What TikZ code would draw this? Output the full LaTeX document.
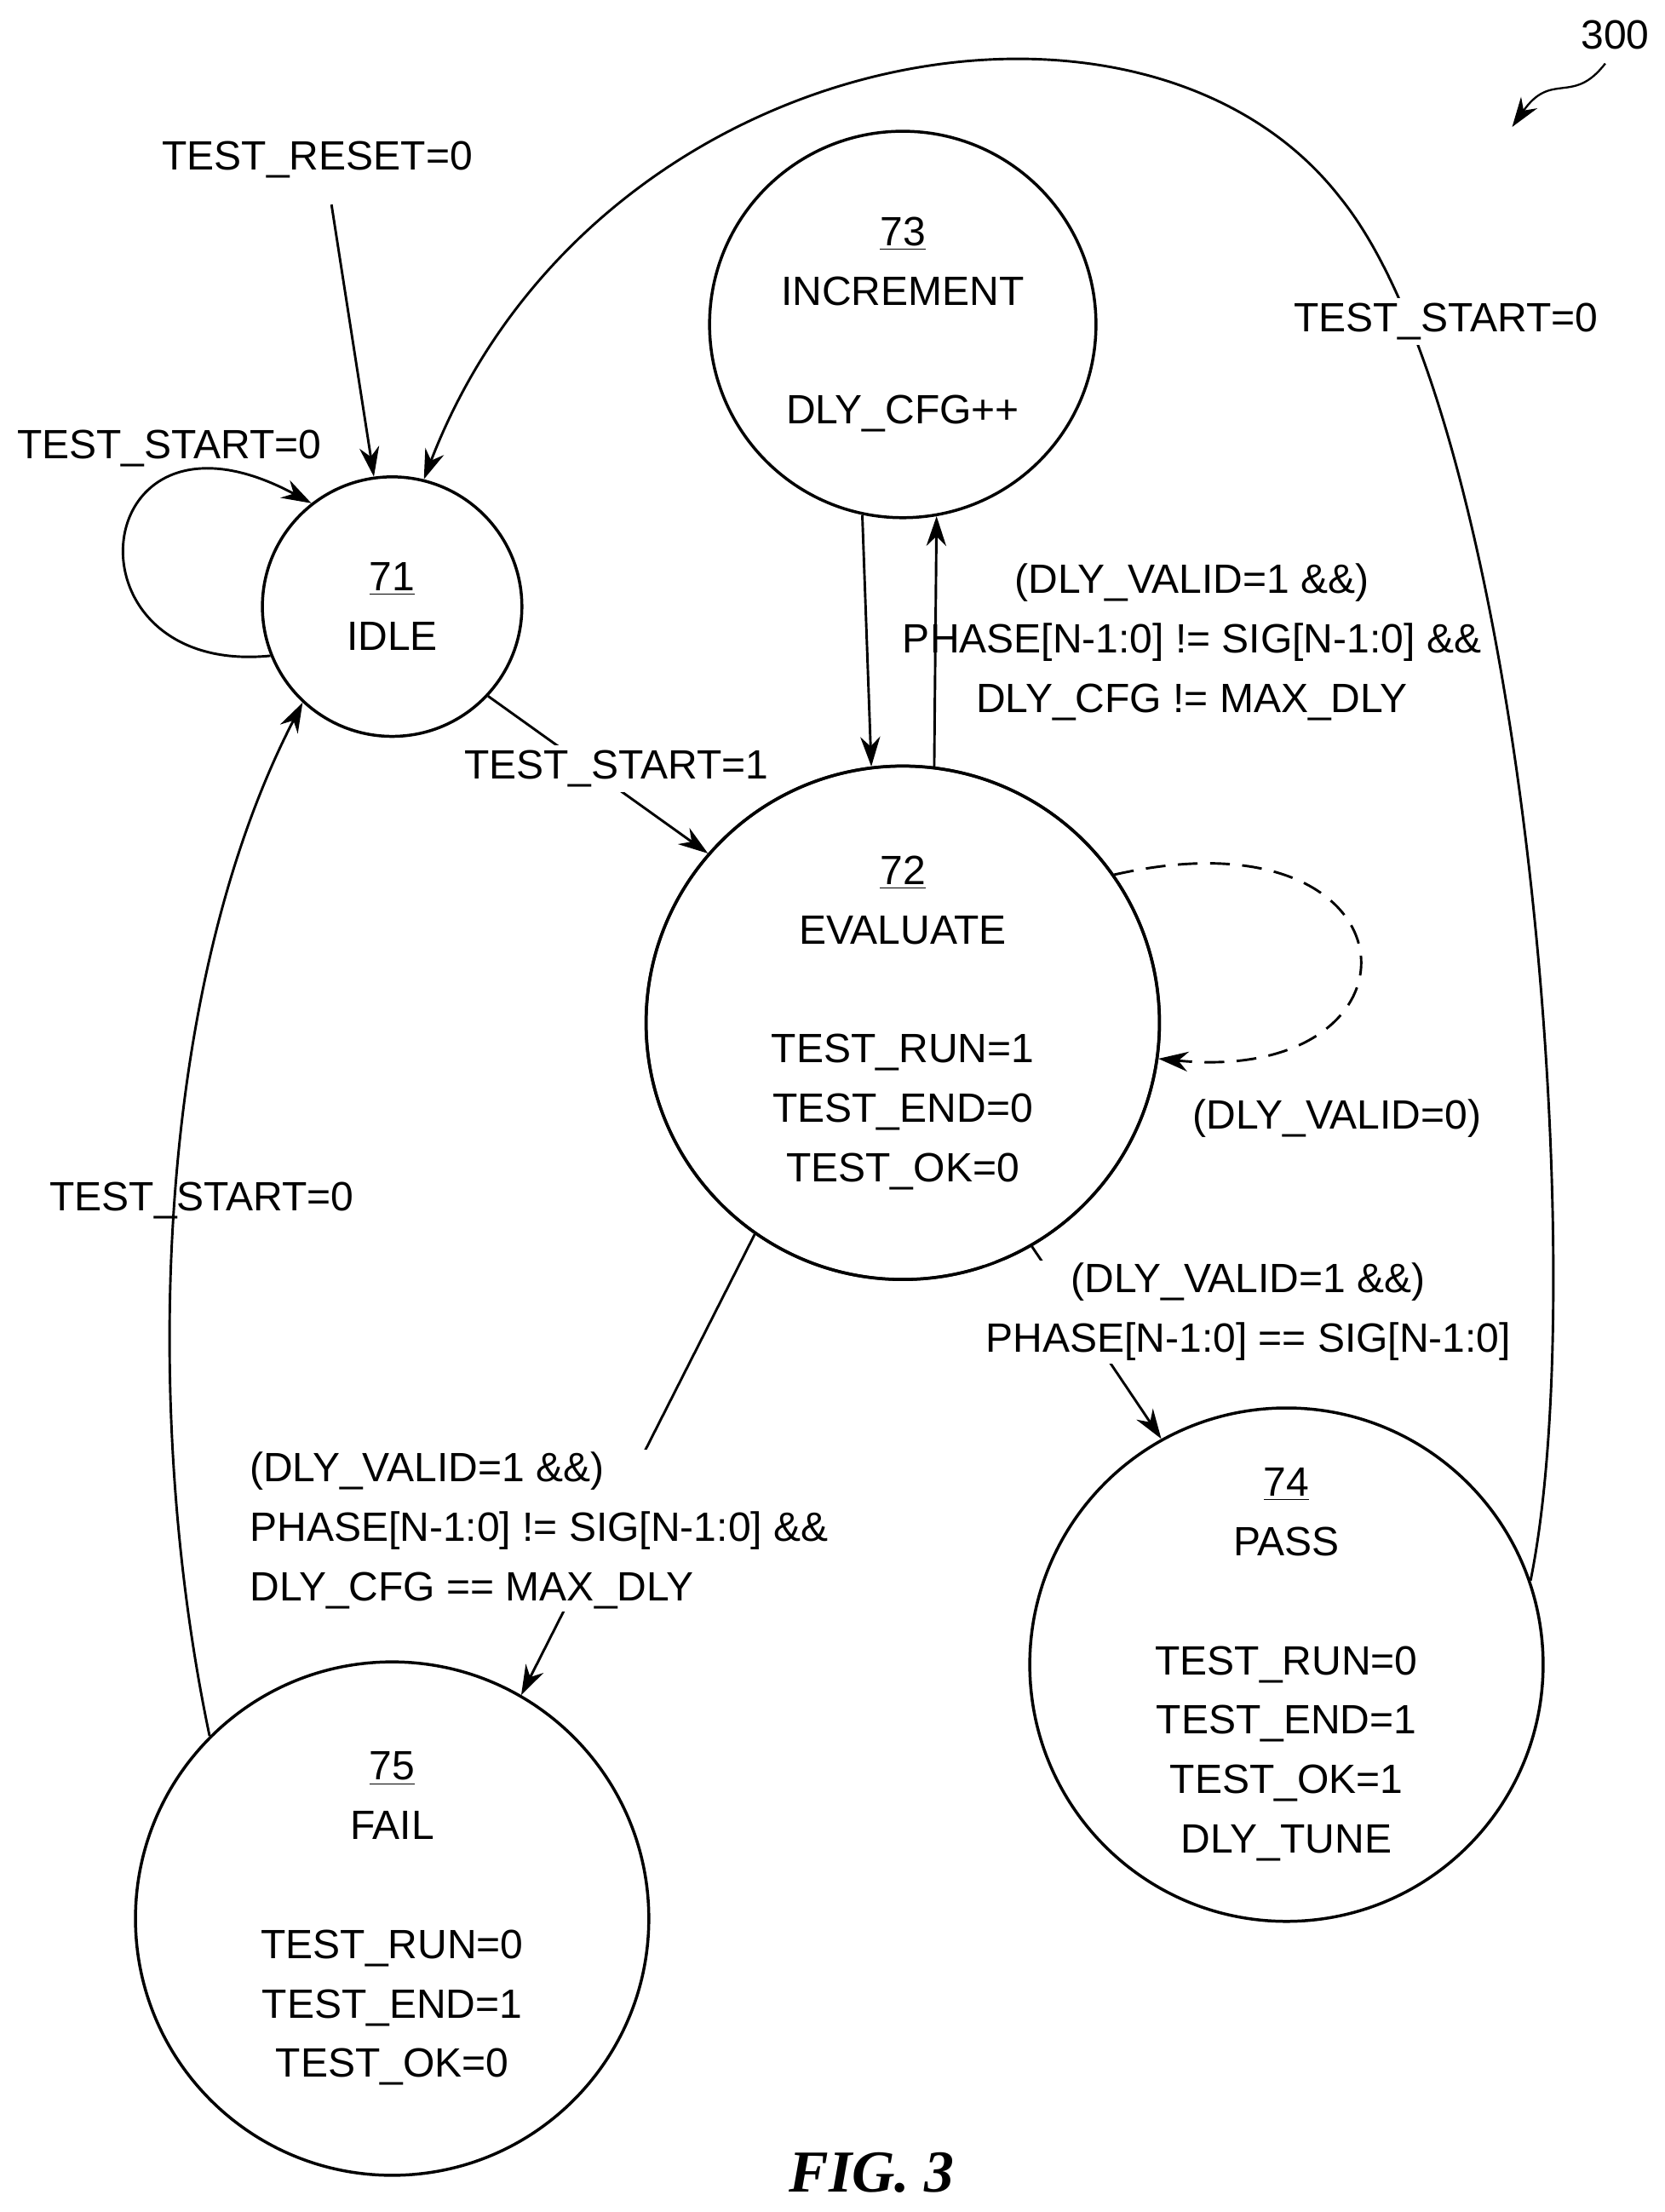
\documentclass[tikz,border=0pt]{standalone}
\usepackage{fontspec}
\setmainfont{Liberation Sans}
\usetikzlibrary{arrows.meta}

\begin{document}
\begin{tikzpicture}[x = 0.02cm, y = -0.02cm,
		state/.style = {draw, circle, line width = 1.2pt, align = center, inner sep = 0pt},
		trans/.style = {line width = 1pt, -{Stealth[length = 12pt, width = 8pt]}},
		lbl/.style = {align = center, inner sep = 0pt},
		every node/.append style = {font = \fontsize{16.5}{24}\selectfont},
		]

	\useasboundingbox (0, 0) rectangle (1180, 1568);

	% States
	\node[state, minimum size = 3.68cm] (idle) at (278, 430) {\underline{71}\\IDLE};
	\node[state, minimum size = 5.48cm] (incr) at (640, 230) {\underline{73}\\INCREMENT\\ \\DLY\_CFG++};
	\node[state, minimum size = 7.28cm] (eval) at (640, 725) {\underline{72}\\EVALUATE\\ \\TEST\_RUN=1\\TEST\_END=0\\TEST\_OK=0};
	\node[state, minimum size = 7.28cm] (pass) at (912, 1180) {\underline{74}\\PASS\\ \\TEST\_RUN=0\\TEST\_END=1\\TEST\_OK=1\\DLY\_TUNE};
	\node[state, minimum size = 7.28cm] (fail) at (278, 1360) {\underline{75}\\FAIL\\ \\TEST\_RUN=0\\TEST\_END=1\\TEST\_OK=0};

	% Reset entry
	\node[lbl] (reset) at (225, 113) {TEST\_RESET=0};
	\draw[trans] (235, 145) -- (idle.98);

	% Transitions
	\draw[trans] (idle.202) .. controls (40, 480) and (60, 270) .. (idle.128);
	\node[lbl] (idleloop) at (120, 318) {TEST\_START=0};

	\draw[trans] (idle.-43) -- (eval.139);
	\node[lbl, fill = white, inner sep = 2pt] (start) at (437, 545) {TEST\_START=1};

	\draw[trans] (incr.258) -- (eval.97);
	\draw[trans] (eval.83) -- (incr.280);
	\node[lbl] (again) at (845, 455) {(DLY\_VALID=1 \&\&)\\PHASE[N-1:0] != SIG[N-1:0] \&\&\\DLY\_CFG != MAX\_DLY};

	\draw[trans, dash pattern = on 8pt off 5pt] (eval.35) .. controls (1010, 570) and (1020, 770) .. (eval.-8);
	\node[lbl] (wait) at (948, 793) {(DLY\_VALID=0)};

	\draw[trans] (eval.-60) -- (pass.119);
	\node[lbl, fill = white, inner sep = 1pt] (ok) at (885, 930) {(DLY\_VALID=1 \&\&)\\PHASE[N-1:0] == SIG[N-1:0]};
	\draw[line width = 1.2pt] (eval) circle[radius = 182];

	\draw[trans] (eval.235) -- (fail.60);
	\node[lbl, fill = white, inner sep = 1pt, align = left, anchor = west] (bad) at (175, 1085) {(DLY\_VALID=1 \&\&)\\PHASE[N-1:0] != SIG[N-1:0] \&\&\\DLY\_CFG == MAX\_DLY};

	\draw[trans] (fail.135) .. controls (100, 1000) and (110, 700) .. (idle.227);
	\node[lbl] (failback) at (143, 851) {TEST\_START=0};

	\draw[trans] (pass.19) .. controls (1130, 900) and (1080, 300) .. (950, 140) .. controls (810, -40) and (420, 30) .. (idle.76);
	\node[lbl, fill = white, inner sep = 2pt] (passback) at (1025, 228) {TEST\_START=0};

	% Reference numeral
	\node[lbl] (num) at (1145, 25) {300};
	\draw[trans, line width = 0.8pt] (1138, 45) .. controls (1115, 75) and (1100, 50) .. (1072, 90);

	\node[font = \fontsize{24}{28}\selectfont\bfseries\itshape\fontspec{Liberation Serif}] (fig) at (618, 1540) {FIG. 3};

\end{tikzpicture}
\end{document}
